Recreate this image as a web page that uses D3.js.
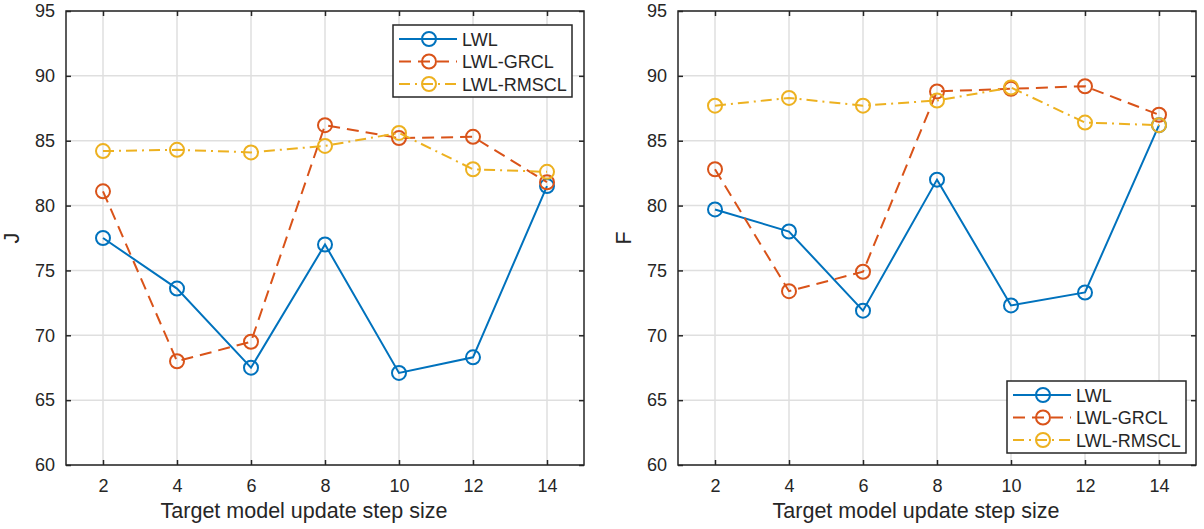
<!DOCTYPE html>
<html>
<head>
<meta charset="utf-8">
<script src="https://cdn.jsdelivr.net/npm/d3@7"></script>
<style>
  html, body { margin: 0; padding: 0; background: #fff; }
  svg { display: block; }
  text { font-family: "Liberation Sans", Arial, Helvetica, sans-serif; fill: #262626; }
</style>
</head>
<body>
<svg id="chart" width="1204" height="529"></svg>
<script>
// ---- data ----
const steps = [2, 4, 6, 8, 10, 12, 14];
const xTicks = [2, 4, 6, 8, 10, 12, 14];
const yTicks = [60, 65, 70, 75, 80, 85, 90, 95];
const seriesNames = ["LWL", "LWL-GRCL", "LWL-RMSCL"];

const J_LWL   = [77.5, 73.6, 67.5, 77.0, 67.1, 68.3, 81.5];
const J_GRCL  = [81.1, 68.0, 69.5, 86.2, 85.2, 85.3, 81.8];
const J_RMSCL = [84.2, 84.3, 84.1, 84.6, 85.6, 82.8, 82.6];

const F_LWL   = [79.7, 78.0, 71.9, 82.0, 72.3, 73.3, 86.2];
const F_GRCL  = [82.8, 73.4, 74.9, 88.8, 89.0, 89.2, 87.0];
const F_RMSCL = [87.7, 88.3, 87.7, 88.1, 89.1, 86.4, 86.2];

const xLabel = "Target model update step size";

// ---- styles ----
const colors = ["#0072BD", "#D95319", "#EDB120"];
const dashes = [null, "12,7", "11,5,2,5"];
const axisColor = "#262626";
const gridColor = "#dfdfdf";
const tickFont = 18;
const labelFont = 21.5;

const svg = d3.select("#chart");

const panels = [
  { yLabel: "J", data: [J_LWL, J_GRCL, J_RMSCL], left: 66, right: 584, legendPos: "ne" },
  { yLabel: "F", data: [F_LWL, F_GRCL, F_RMSCL], left: 678, right: 1196, legendPos: "se" }
];
const plotTop = 11, plotBottom = 465;

panels.forEach(p => {
  const x = d3.scaleLinear().domain([1, 15]).range([p.left, p.right]);
  const y = d3.scaleLinear().domain([60, 95]).range([plotBottom, plotTop]);
  const g = svg.append("g");

  // grid
  g.append("g").selectAll("line").data(xTicks).join("line")
    .attr("x1", d => x(d)).attr("x2", d => x(d)).attr("y1", plotTop).attr("y2", plotBottom)
    .attr("stroke", gridColor).attr("stroke-width", 1.5);
  g.append("g").selectAll("line").data(yTicks).join("line")
    .attr("x1", p.left).attr("x2", p.right).attr("y1", d => y(d)).attr("y2", d => y(d))
    .attr("stroke", gridColor).attr("stroke-width", 1.5);

  // axes (inward ticks)
  const tl = 5;
  const axB = d3.axisBottom(x).tickValues(xTicks).tickSize(-tl).tickPadding(14).tickFormat(d3.format("d"));
  const axT = d3.axisTop(x).tickValues(xTicks).tickSize(-tl).tickFormat("");
  const axL = d3.axisLeft(y).tickValues(yTicks).tickSize(-tl).tickPadding(11).tickFormat(d3.format("d"));
  const axR = d3.axisRight(y).tickValues(yTicks).tickSize(-tl).tickFormat("");

  const styleAxis = sel => {
    sel.select(".domain").remove();
    sel.selectAll(".tick line").attr("stroke", axisColor).attr("stroke-width", 1.5);
    sel.selectAll(".tick text").attr("fill", axisColor).style("font-size", tickFont + "px")
      .style("font-family", '"Liberation Sans", Arial, sans-serif');
  };
  g.append("g").attr("transform", `translate(0,${plotBottom})`).call(axB).call(styleAxis);
  g.append("g").attr("transform", `translate(0,${plotTop})`).call(axT).call(styleAxis);
  g.append("g").attr("transform", `translate(${p.left},0)`).call(axL).call(styleAxis);
  g.append("g").attr("transform", `translate(${p.right},0)`).call(axR).call(styleAxis);
  g.append("rect").attr("x", p.left).attr("y", plotTop).attr("width", p.right - p.left).attr("height", plotBottom - plotTop)
    .attr("fill", "none").attr("stroke", axisColor).attr("stroke-width", 1.5);

  // labels
  g.append("text").attr("x", (p.left + p.right) / 2 - 21).attr("y", 518)
    .attr("text-anchor", "middle").style("font-size", labelFont + "px").text(xLabel);
  g.append("text").attr("transform", `translate(${p.left - 47},${(plotTop + plotBottom) / 2}) rotate(-90)`)
    .attr("text-anchor", "middle").style("font-size", labelFont + "px").text(p.yLabel);

  // series
  const line = d3.line().x((d, i) => x(steps[i])).y(d => y(d));
  p.data.forEach((vals, si) => {
    g.append("path").datum(vals).attr("d", line).attr("fill", "none")
      .attr("stroke", colors[si]).attr("stroke-width", 2)
      .attr("stroke-dasharray", dashes[si]);
    g.append("g").selectAll("circle").data(vals).join("circle")
      .attr("cx", (d, i) => x(steps[i])).attr("cy", d => y(d)).attr("r", 7)
      .attr("fill", "none").attr("stroke", colors[si]).attr("stroke-width", 2);
  });

  // legend
  const lw = 179, lh = 72;
  const lx = p.legendPos === "ne" ? p.right - 12 - lw : p.right - 10 - lw;
  const ly = p.legendPos === "ne" ? plotTop + 14 : plotBottom - 12 - lh;
  const lg = g.append("g").attr("transform", `translate(${lx},${ly})`);
  lg.append("rect").attr("width", lw).attr("height", lh).attr("fill", "#fff")
    .attr("stroke", axisColor).attr("stroke-width", 1.5);
  seriesNames.forEach((name, si) => {
    const cy = 14 + si * 22.5;
    lg.append("line").attr("x1", 6).attr("x2", 64).attr("y1", cy).attr("y2", cy)
      .attr("stroke", colors[si]).attr("stroke-width", 2).attr("stroke-dasharray", dashes[si]);
    lg.append("circle").attr("cx", 36).attr("cy", cy).attr("r", 7)
      .attr("fill", "none").attr("stroke", colors[si]).attr("stroke-width", 2);
    lg.append("text").attr("x", 69).attr("y", cy + 6.5).style("font-size", tickFont + "px").text(name);
  });
});
</script>
</body>
</html>
